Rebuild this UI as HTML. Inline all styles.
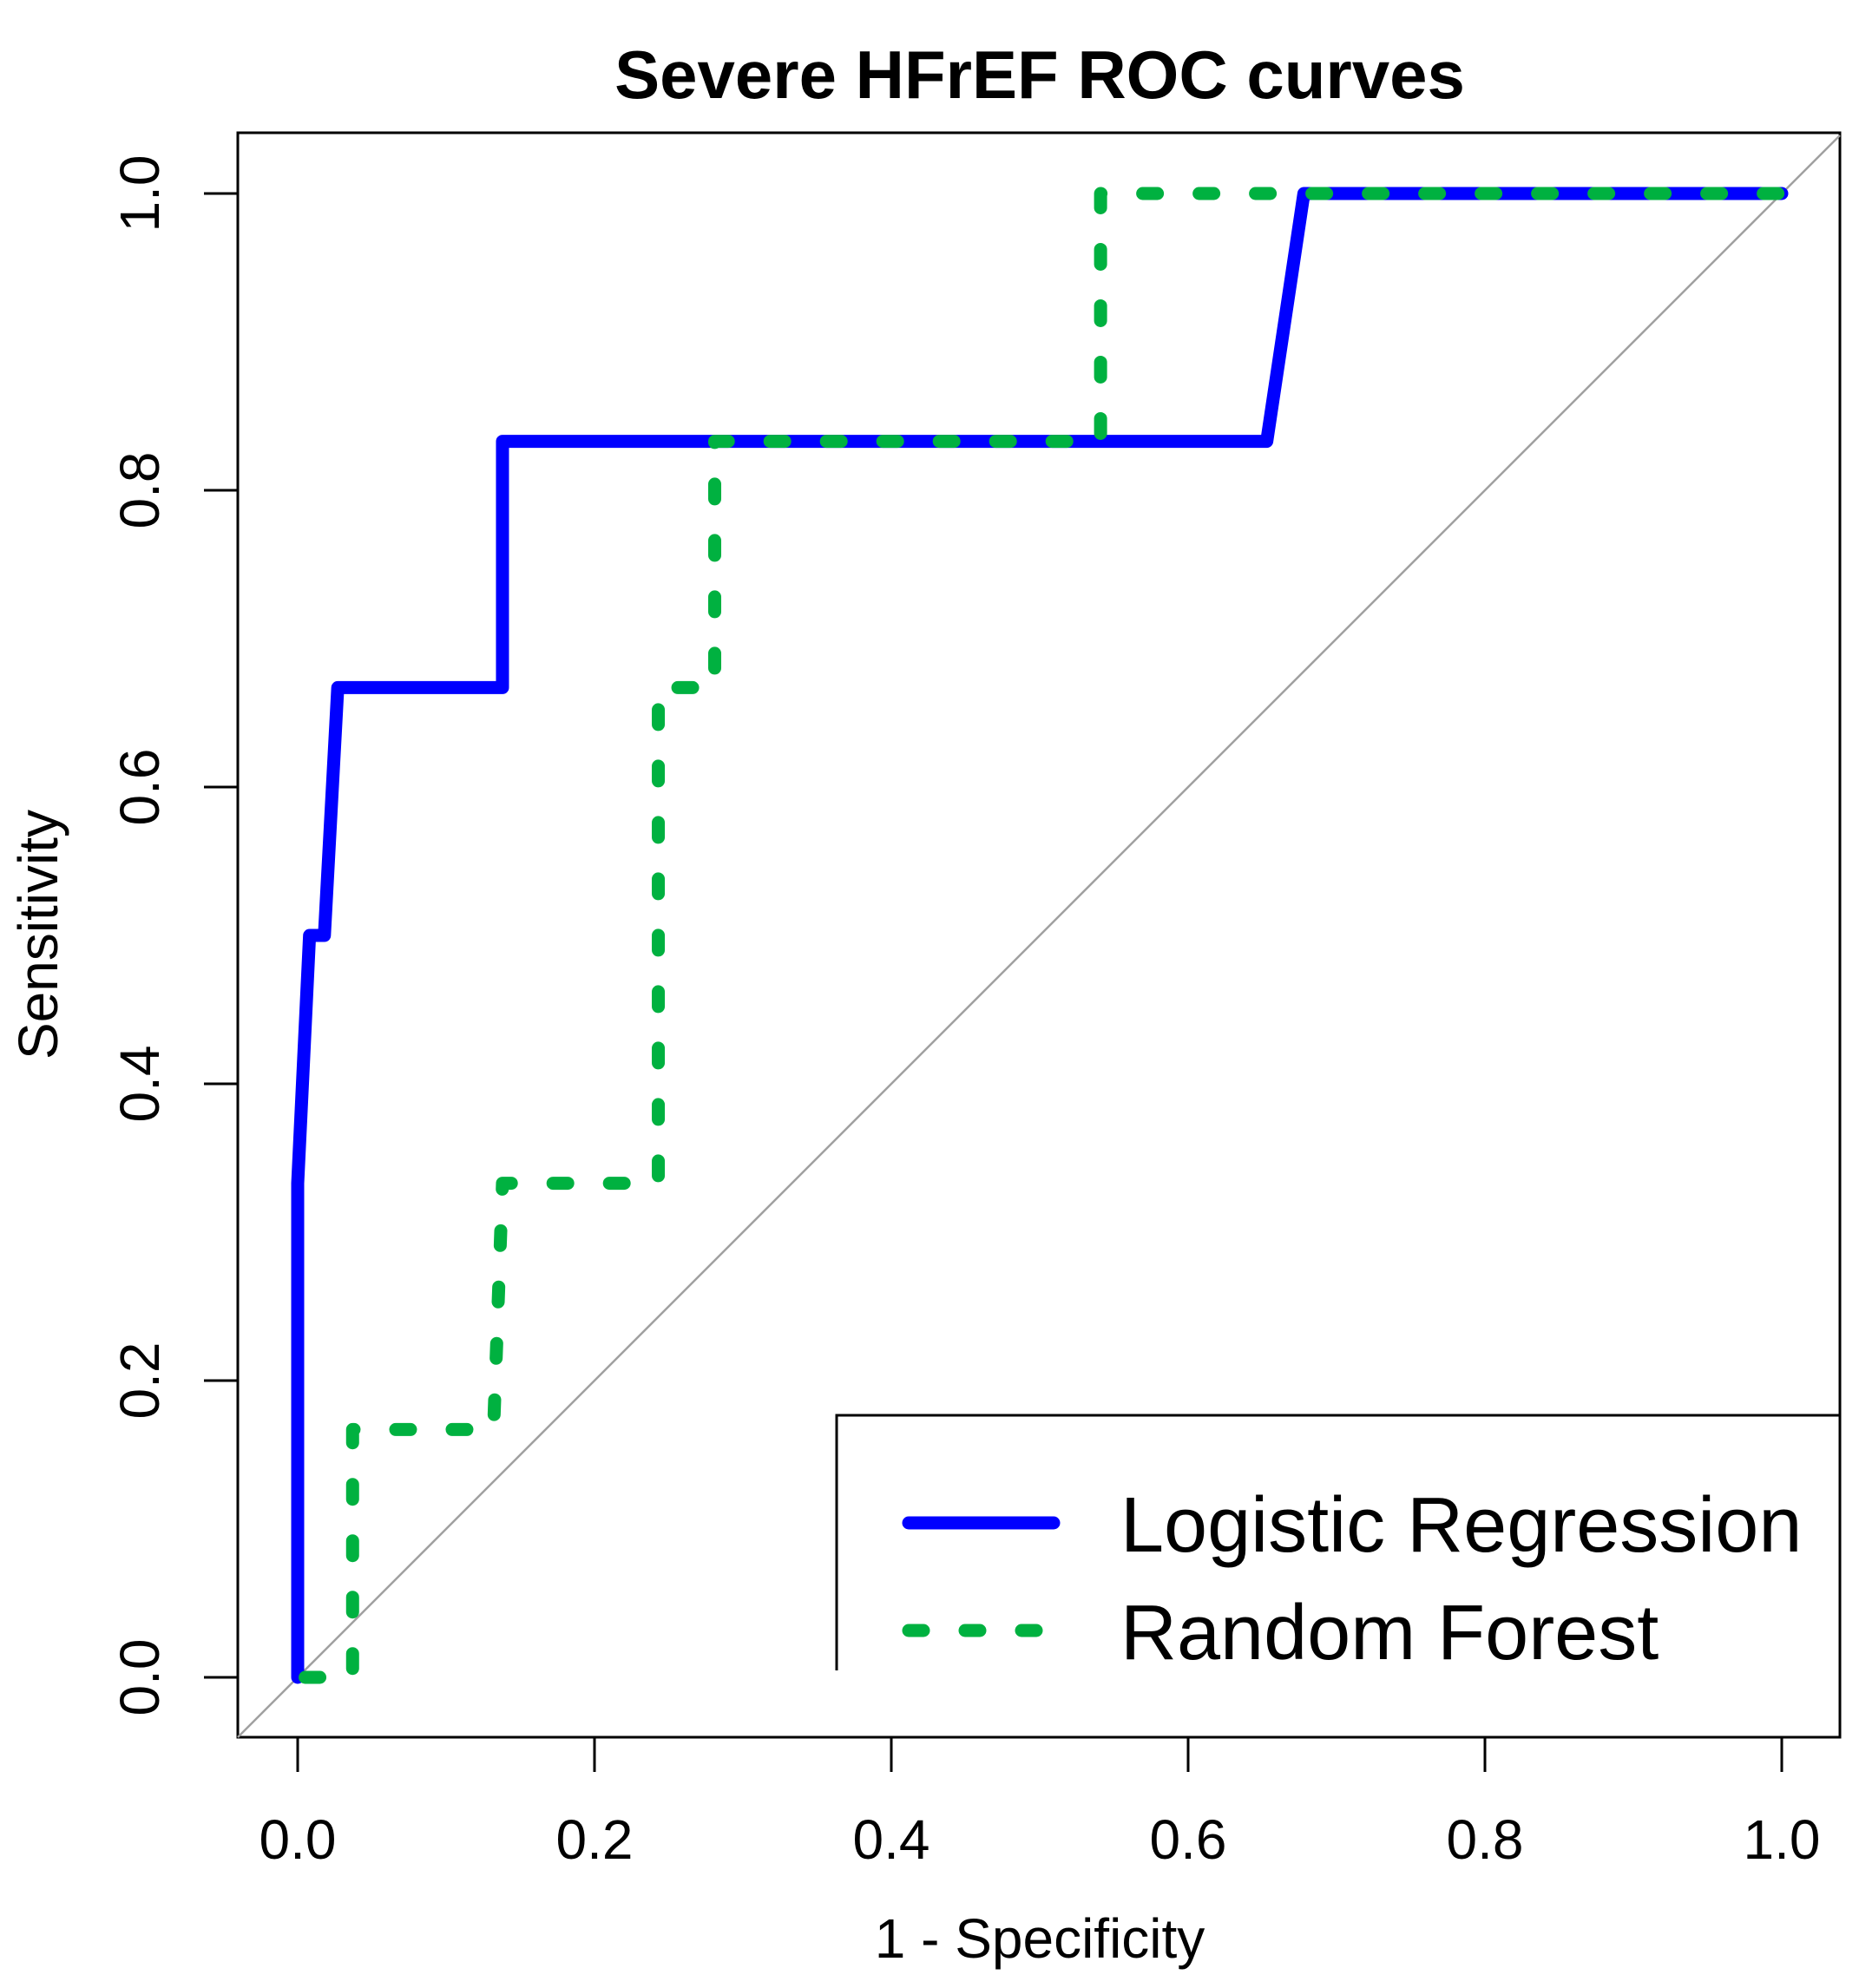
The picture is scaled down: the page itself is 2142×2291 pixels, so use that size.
<!DOCTYPE html>
<html><head><meta charset="utf-8"><style>
html,body{margin:0;padding:0;background:#fff;}
svg{display:block;font-family:"Liberation Sans",Arial,sans-serif;}
</style></head><body>
<svg id="chart" width="2142" height="2291" viewBox="0 0 2142 2291">
<text x="1198" y="113" font-size="78" font-weight="bold" text-anchor="middle">Severe HFrEF ROC curves</text>
<rect x="274" y="153" width="1846" height="1849" fill="none" stroke="#000" stroke-width="3"/>
<g id="axes"></g>
<g id="series"></g>
<text x="1198" y="2256" font-size="64" text-anchor="middle">1 - Specificity</text>
<text transform="translate(66,1077) rotate(-90)" font-size="64" text-anchor="middle">Sensitivity</text>
<g>
<path d="M964 1925 V1631 H2120" fill="none" stroke="#000" stroke-width="3"/>
<line x1="1047" y1="1755" x2="1214" y2="1755" stroke="#0000ff" stroke-width="15" stroke-linecap="round"/>
<text x="1291" y="1788" font-size="90">Logistic Regression</text>
<line x1="1047" y1="1879" x2="1214" y2="1879" stroke="#00b140" stroke-width="15" stroke-linecap="round" stroke-dasharray="17 48"/>
<text x="1291" y="1912" font-size="90">Random Forest</text>
</g>
</svg>
<script>
const xTicks = [0, 0.2, 0.4, 0.6, 0.8, 1.0];
const yTicks = [0, 0.2, 0.4, 0.6, 0.8, 1.0];
const tickLabels = ["0.0", "0.2", "0.4", "0.6", "0.8", "1.0"];
const lrX = [0, 0, 0.008, 0.018, 0.027, 0.138, 0.138, 0.653, 0.678, 1.0];
const lrY = [0, 0.333, 0.5, 0.5, 0.667, 0.667, 0.833, 0.833, 1.0, 1.0];
const rfX = [0.005, 0.037, 0.037, 0.132, 0.138, 0.243, 0.243, 0.281, 0.281, 0.541, 0.541, 1.0];
const rfY = [0, 0, 0.167, 0.167, 0.333, 0.333, 0.667, 0.667, 0.833, 0.833, 1.0, 1.0];

const NS = "http://www.w3.org/2000/svg";
const sx = v => 343 + v * 1710;
const sy = v => 1933 - v * 1710;
const axes = document.getElementById("axes");
const series = document.getElementById("series");
function mk(tag, attrs, parent) {
  const e = document.createElementNS(NS, tag);
  for (const k in attrs) e.setAttribute(k, attrs[k]);
  parent.appendChild(e);
  return e;
}
const diag = mk("line", {x1: 274, y1: 2002, x2: 2120, y2: 1933 - (2120 - 343), stroke: "#a0a0a0", "stroke-width": 2.5}, axes);


xTicks.forEach((v, i) => {
  const t = mk("line", {x1: sx(v), y1: 2002, x2: sx(v), y2: 2042, stroke: "#000", "stroke-width": 3}, axes);
  
  
  const l = mk("text", {x: sx(v), y: 2142, "font-size": 64, "text-anchor": "middle"}, axes);
  l.textContent = tickLabels[i];
  
  
});
yTicks.forEach((v, i) => {
  const t = mk("line", {x1: 235, y1: sy(v), x2: 274, y2: sy(v), stroke: "#000", "stroke-width": 3}, axes);
  
  
  const l = mk("text", {transform: "translate(183," + sy(v) + ") rotate(-90)", "font-size": 64, "text-anchor": "middle"}, axes);
  l.textContent = tickLabels[i];
  
  
});
function pts(xs, ys) { return xs.map((x, i) => sx(x) + "," + sy(ys[i])).join(" "); }
const lr = mk("polyline", {points: pts(lrX, lrY), fill: "none", stroke: "#0000ff", "stroke-width": 15, "stroke-linejoin": "round", "stroke-linecap": "round"}, series);


const rf = mk("polyline", {points: pts(rfX, rfY), fill: "none", stroke: "#00b140", "stroke-width": 15, "stroke-linejoin": "round", "stroke-linecap": "round", "stroke-dasharray": "17 48"}, series);


</script>
</body></html>
